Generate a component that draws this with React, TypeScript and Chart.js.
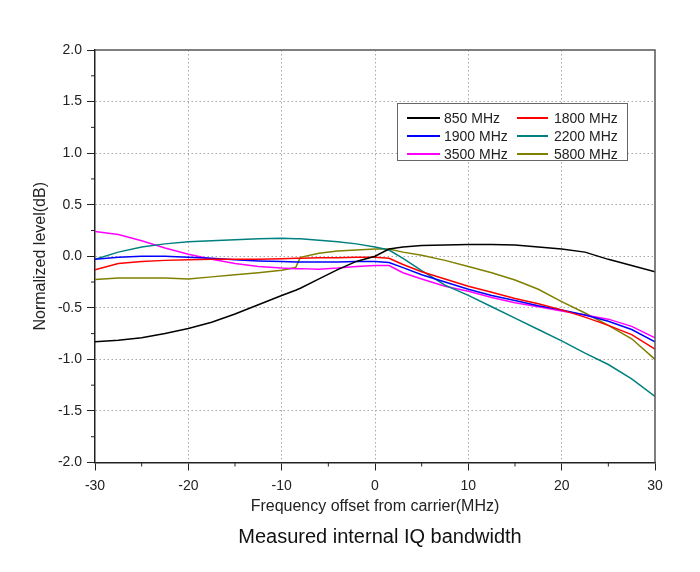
import { useEffect, useRef } from "react";
import { Chart, registerables, type ChartConfiguration, type Plugin } from "chart.js";

Chart.register(...registerables);

// frequency offset from carrier, MHz
const FREQ = [
  -30, -27.5, -25, -22.5, -20, -17.5, -15, -12.5, -10, -8.5, -8, -6, -4, -2, 0,
  1.5, 3, 5, 7.5, 10, 12.5, 15, 17.5, 20, 22.5, 25, 27.5, 30,
];

const L850 = [
  -0.83, -0.815, -0.79, -0.75, -0.7, -0.64, -0.56, -0.47, -0.38, -0.33, -0.31, -0.22, -0.13, -0.05, 0.0,
  0.07, 0.09, 0.105, 0.11, 0.115, 0.115, 0.11, 0.09, 0.07, 0.04, -0.03, -0.09, -0.15,
];
const L1800 = [
  -0.13, -0.07, -0.05, -0.04, -0.035, -0.03, -0.03, -0.03, -0.025, -0.02, -0.02, -0.015, -0.015, -0.01, -0.01,
  -0.02, -0.08, -0.15, -0.22, -0.29, -0.35, -0.41, -0.46, -0.52, -0.59, -0.67, -0.76, -0.9,
];
const L1900 = [
  -0.03, -0.01, 0.0, 0.0, -0.01, -0.02, -0.035, -0.045, -0.05, -0.055, -0.055, -0.055, -0.055, -0.05, -0.05,
  -0.06, -0.11, -0.18, -0.25, -0.32, -0.38, -0.43, -0.48, -0.52, -0.57, -0.63, -0.71, -0.83,
];
const L2200 = [
  -0.03, 0.04, 0.09, 0.12, 0.14, 0.15, 0.16, 0.17, 0.175, 0.17, 0.17, 0.155, 0.14, 0.12, 0.09,
  0.06, -0.02, -0.14, -0.28, -0.38, -0.49, -0.6, -0.71, -0.82, -0.94, -1.05, -1.19, -1.36,
];
const L3500 = [
  0.24, 0.21, 0.15, 0.08, 0.02, -0.03, -0.07, -0.1, -0.115, -0.12, -0.12, -0.125, -0.115, -0.1, -0.09,
  -0.09, -0.16, -0.22, -0.29, -0.34, -0.4, -0.45, -0.49, -0.53, -0.57, -0.61, -0.68, -0.79,
];
const L5800 = [
  -0.225, -0.21, -0.21, -0.21, -0.22, -0.2, -0.18, -0.16, -0.135, -0.11, -0.01, 0.03, 0.05, 0.06, 0.07,
  0.07, 0.04, 0.01, -0.04, -0.1, -0.16, -0.23, -0.32, -0.44, -0.55, -0.67, -0.8, -1.0,
];

const SERIES = [L850, L1800, L1900, L2200, L3500, L5800];
const LABELS = ["850 MHz", "1800 MHz", "1900 MHz", "2200 MHz", "3500 MHz", "5800 MHz"];
const COLORS = ["#000000", "#ff0000", "#0000ff", "#008080", "#ff00ff", "#808000"];

const X_MINOR = [-25, -15, -5, 5, 15, 25];
const Y_MINOR = [1.75, 1.25, 0.75, 0.25, -0.25, -0.75, -1.25, -1.75];

const FONT = "'Liberation Sans', Arial, sans-serif";

const framePlugin: Plugin = {
  id: "frame",
  afterDraw(chart) {
    const { ctx, chartArea: a, scales } = chart;
    ctx.save();
    ctx.strokeStyle = "#555";
    ctx.lineWidth = 1.5;
    ctx.beginPath();
    ctx.moveTo(a.left, a.top);
    ctx.lineTo(a.right, a.top);
    ctx.lineTo(a.right, a.bottom);
    ctx.stroke();
    // minor ticks, outward
    ctx.strokeStyle = "#222";
    ctx.lineWidth = 1;
    ctx.beginPath();
    for (const v of X_MINOR) {
      const px = scales.x.getPixelForValue(v);
      ctx.moveTo(px, a.bottom);
      ctx.lineTo(px, a.bottom + 4);
    }
    for (const v of Y_MINOR) {
      const py = scales.y.getPixelForValue(v);
      ctx.moveTo(a.left, py);
      ctx.lineTo(a.left - 4, py);
    }
    ctx.stroke();
    ctx.restore();
  },
};

function IqChart() {
  const canvasRef = useRef<HTMLCanvasElement>(null);

  useEffect(() => {
    if (!canvasRef.current) return;
    const gridColor = (lo: number, hi: number) => (c: any) =>
      c.tick && (c.tick.value <= lo || c.tick.value >= hi) ? "rgba(0,0,0,0)" : "#a8a8a8";

    const cfg: ChartConfiguration<"line"> = {
      type: "line",
      data: {
        datasets: SERIES.map((s, i) => ({
          label: LABELS[i],
          data: s.map((y, j) => ({ x: FREQ[j], y })),
          borderColor: COLORS[i],
          backgroundColor: COLORS[i],
          borderWidth: 1.5,
          pointRadius: 0,
          tension: 0,
        })),
      },
      options: {
        animation: false,
        responsive: false,
        maintainAspectRatio: false,
        layout: { padding: { top: 50, right: 45, bottom: 49.5, left: 0 } },
        plugins: {
          legend: { display: false },
          tooltip: { enabled: false },
        },
        scales: {
          x: {
            type: "linear",
            min: -30,
            max: 30,
            afterFit: (s) => {
              s.height = 60;
            },
            ticks: {
              stepSize: 10,
              color: "#222",
              font: { family: FONT, size: 14 },
              padding: 7,
              maxRotation: 0,
            },
            grid: {
              color: gridColor(-30, 30),
              lineWidth: 1,
              tickColor: "#222",
              tickLength: 8,
              drawTicks: true,
            },
            border: { color: "#222", width: 1.5, dash: [1.5, 2.5] },
            title: {
              display: true,
              text: "Frequency offset from carrier(MHz)",
              color: "#222",
              font: { family: FONT, size: 16 },
              padding: { top: 0, bottom: 6 },
            },
          },
          y: {
            type: "linear",
            min: -2,
            max: 2,
            afterFit: (s) => {
              s.width = 95;
            },
            ticks: {
              stepSize: 0.5,
              color: "#222",
              font: { family: FONT, size: 14 },
              padding: 5,
              callback: (v) => Number(v).toFixed(1),
            },
            grid: {
              color: gridColor(-2, 2),
              lineWidth: 1,
              tickColor: "#222",
              tickLength: 8,
              drawTicks: true,
            },
            border: { color: "#222", width: 1.5, dash: [1.5, 2.5] },
            title: {
              display: true,
              text: "Normalized level(dB)",
              color: "#222",
              font: { family: FONT, size: 16 },
              padding: { top: 31, bottom: 0 },
            },
          },
        },
      },
      plugins: [framePlugin],
    };
    const chart = new Chart(canvasRef.current, cfg);
    return () => chart.destroy();
  }, []);

  return <canvas ref={canvasRef} width={700} height={572} style={{ width: 700, height: 572 }} />;
}

function Legend() {
  const colX = [[9, 33, 46], [119, 31, 156]];
  const rowY = [14, 32, 49.5];
  return (
    <div
      style={{
        position: "absolute",
        left: 397,
        top: 103,
        width: 229,
        height: 56,
        border: "1px solid #666",
        background: "#fff",
      }}
    >
      {LABELS.map((lab, i) => {
        const [lx, lw, tx] = colX[i % 2];
        const cy = rowY[Math.floor(i / 2)];
        return (
          <div key={lab}>
            <div
              style={{
                position: "absolute",
                left: lx,
                top: cy - 1,
                width: lw,
                height: 2,
                background: COLORS[i],
              }}
            />
            <div
              style={{
                position: "absolute",
                left: tx,
                top: cy - 9,
                height: 18,
                lineHeight: "18px",
                fontFamily: FONT,
                fontSize: 14,
                color: "#222",
                whiteSpace: "nowrap",
              }}
            >
              {lab}
            </div>
          </div>
        );
      })}
    </div>
  );
}

export default function App() {
  return (
    <div
      style={{
        position: "absolute",
        left: 0,
        top: 0,
        width: 700,
        height: 572,
        background: "#fff",
      }}
    >
      <IqChart />
      <Legend />
      <div
        style={{
          position: "absolute",
          left: 0,
          top: 524,
          width: 760,
          textAlign: "center",
          fontFamily: FONT,
          fontSize: 20,
          lineHeight: "24px",
          color: "#111",
        }}
      >
        Measured internal IQ bandwidth
      </div>
    </div>
  );
}
